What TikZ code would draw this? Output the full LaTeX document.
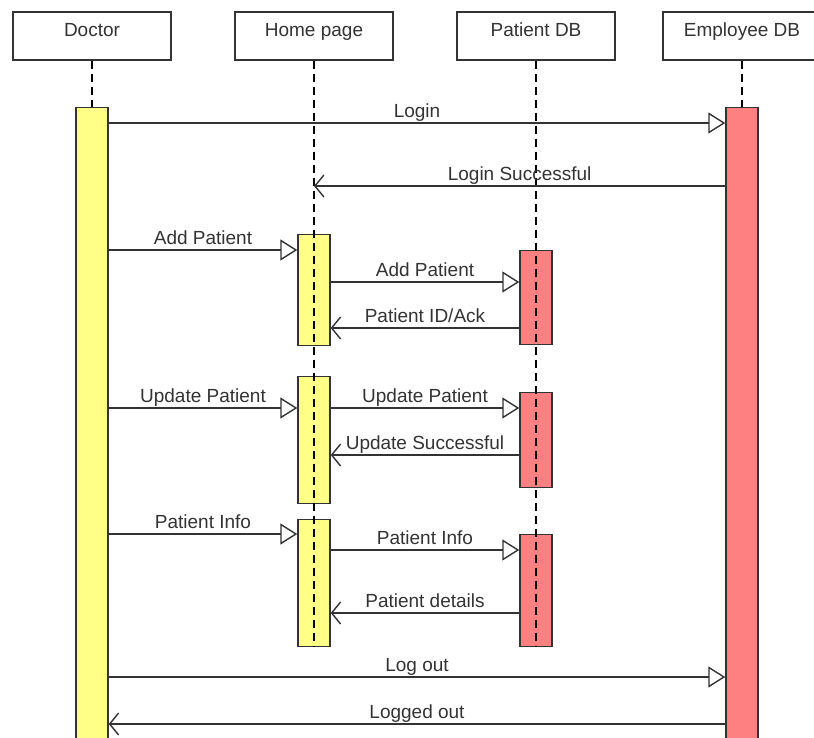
\documentclass[tikz,border=0pt]{standalone}
\usepackage{fontspec}
\setmainfont{Liberation Sans}
\usetikzlibrary{arrows.meta}
\definecolor{actyellow}{HTML}{FFFF88}
\definecolor{actred}{HTML}{FF8080}
\definecolor{ink}{HTML}{333333}
\begin{document}
\begin{tikzpicture}[x=1pt,y=-1pt,
  every node/.style={font=\fontsize{19}{22}\selectfont, text=ink},
  header/.style={draw=ink, line width=1.3pt, fill=white, minimum width=158pt, minimum height=48pt, inner sep=0pt},
  htext/.style={inner sep=0pt, text height=0.72em, text depth=0.22em, yshift=1.8pt},
  lifeline/.style={draw=black, line width=1.4pt, dash pattern=on 8pt off 5pt},
  act/.style={draw=ink, line width=1.4pt, minimum width=32pt, inner sep=0pt, anchor=north},
  yact/.style={act, fill=actyellow},
  ract/.style={act, fill=actred},
  sync/.style={draw=ink, line width=1.4pt, -{Triangle[open, length=17pt, width=21pt, line width=1.4pt]}},
  ret/.style={draw=ink, line width=1.4pt, -{Straight Barb[length=9pt, width=22pt, line width=1.4pt]}},
  lbl/.style={above, inner sep=3pt, text height=0.72em, text depth=0.22em}
]
\useasboundingbox (0,0) rectangle (814,738);
\begin{scope}
\clip (0,0) rectangle (814,738);
% headers
\node[header] (doc) at (92,36) {};
\node[header] (home) at (314,36) {};
\node[header] (pdb) at (536,36) {};
\node[header] (edb) at (742,36) {};
\node[htext] (docT) at (doc.center) {Doctor};
\node[htext] (homeT) at (home.center) {Home page};
\node[htext] (pdbT) at (pdb.center) {Patient DB};
\node[htext] (edbT) at (edb.center) {Employee DB};
% activations
\node[yact, minimum height=660pt] (docAct) at (92,107) {};
\node[ract, minimum height=660pt] (edbAct) at (742,107) {};
\node[yact, minimum height=111pt] (h1) at (314,234) {};
\node[yact, minimum height=127pt] (h2) at (314,376) {};
\node[yact, minimum height=127pt] (h3) at (314,519) {};
\node[ract, minimum height=94pt] (p1) at (536,250) {};
\node[ract, minimum height=95pt] (p2) at (536,392) {};
\node[ract, minimum height=112pt] (p3) at (536,534) {};
% lifelines
\coordinate (homeEnd) at (314,646);
\coordinate (pdbEnd) at (536,646);
\draw[lifeline] (doc.south) -- (docAct.north);
\draw[lifeline] (edb.south) -- (edbAct.north);
\draw[lifeline] (home.south) -- (homeEnd);
\draw[lifeline] (pdb.south) -- (pdbEnd);
% messages
\draw[sync] (docAct.east |- 0,123) -- node[lbl]{Login} (edbAct.west |- 0,123);
\draw[ret] (edbAct.west |- 0,186) -- node[lbl]{Login Successful} (home.south |- 0,186);
\draw[sync] (docAct.east |- 0,250) -- node[lbl]{Add Patient} (h1.west |- 0,250);
\draw[sync] (h1.east |- 0,282) -- node[lbl]{Add Patient} (p1.west |- 0,282);
\draw[ret] (p1.west |- 0,328) -- node[lbl]{Patient ID/Ack} (h1.east |- 0,328);
\draw[sync] (docAct.east |- 0,408) -- node[lbl]{Update Patient} (h2.west |- 0,408);
\draw[sync] (h2.east |- 0,408) -- node[lbl]{Update Patient} (p2.west |- 0,408);
\draw[ret] (p2.west |- 0,455) -- node[lbl]{Update Successful} (h2.east |- 0,455);
\draw[sync] (docAct.east |- 0,534) -- node[lbl]{Patient Info} (h3.west |- 0,534);
\draw[sync] (h3.east |- 0,550) -- node[lbl]{Patient Info} (p3.west |- 0,550);
\draw[ret] (p3.west |- 0,613) -- node[lbl]{Patient details} (h3.east |- 0,613);
\draw[sync] (docAct.east |- 0,677) -- node[lbl]{Log out} (edbAct.west |- 0,677);
\draw[ret] (edbAct.west |- 0,724) -- node[lbl]{Logged out} (docAct.east |- 0,724);
\end{scope}
\end{tikzpicture}
\end{document}
